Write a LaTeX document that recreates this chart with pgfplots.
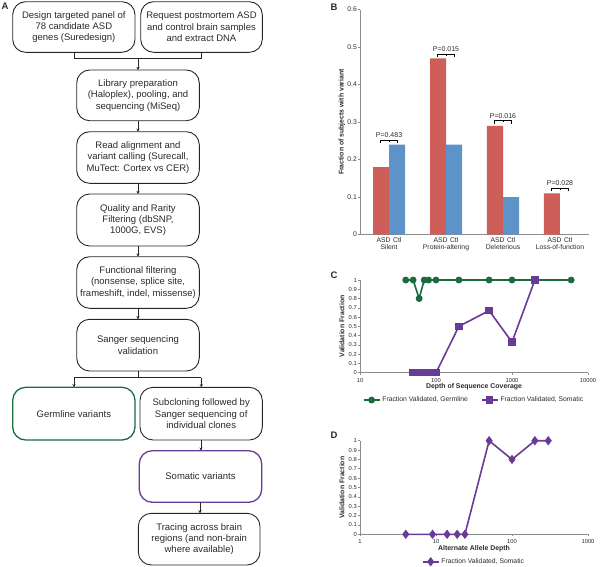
\documentclass[border=0pt]{standalone}
\usepackage{pgfplots}
\pgfplotsset{compat=1.18}
\usepackage{fontspec}
\setmainfont{Liberation Sans}
\usetikzlibrary{arrows.meta}
\definecolor{asdred}{HTML}{CD5E5A}
\definecolor{ctlblue}{HTML}{5E93C9}
\definecolor{dgreen}{HTML}{1B6B3E}
\definecolor{dpurple}{HTML}{6A3A98}
\definecolor{axgray}{HTML}{8C8C8C}
\definecolor{txt}{HTML}{2A2A2A}
\pgfplotsset{
  panel/.style={
    scale only axis, axis lines=left,
    axis line style={-,axgray,line width=0.8pt},
    tick style={axgray,line width=0.6pt}, tick align=outside, major tick length=2pt,
    /pgf/number format/assume math mode=true,
    tick label style={font=\fontsize{5.8}{6.3}\selectfont, text=txt},
    yticklabel style={inner sep=1pt},
    label style={font=\bfseries\fontsize{6.9}{7.5}\selectfont, text=txt},
  },
  lgd/.style={
    legend style={draw=none, fill=none, legend columns=2, font=\fontsize{6.8}{7.5}\selectfont, text=txt,
      inner sep=1pt,
      /tikz/every even column/.append style={column sep=11pt}},
    legend image code/.code={\draw[mark repeat=2,mark phase=2] plot coordinates {(0cm,0cm)(0.28cm,0cm)(0.56cm,0cm)};}
  }
}
\tikzset{
  fb/.style={draw=black!85, rounded corners=13pt, line width=0.9pt},
  ft/.style={align=center, font=\fontsize{9.5}{11.3}\selectfont, text=txt},
  ar/.style={draw=black!85, line width=0.6pt, -{Stealth[length=3.2pt,width=3.2pt]}},
  ln/.style={draw=black!85, line width=0.6pt},
  pl/.style={font=\bfseries\fontsize{9.5}{10}\selectfont, text=txt},
  pv/.style={font=\fontsize{7}{7.5}\selectfont, text=txt, inner sep=0pt}
}
\begin{document}
\begin{tikzpicture}[x=1pt,y=1pt]
\useasboundingbox (0,0) rectangle (600,-566);
% ---------------- Panel A: flowchart ----------------
\node[pl] at (5,-6) {A};
\draw[fb] (12.7,-1.7) rectangle (135,-52.3);
\node[ft] at (73.85,-27) {Design targeted panel of\\78 candidate ASD\\genes (Suredesign)};
\draw[fb] (140.7,-1.7) rectangle (262.3,-52.3);
\node[ft] at (201.5,-27) {Request postmortem ASD\\and control brain samples\\and extract DNA};
\draw[ln] (73.85,-52.3) -- (73.85,-58.3) -- (201.5,-58.3) -- (201.5,-52.3);
\draw[ar] (138,-58.3) -- (138,-70);
\draw[fb] (76.7,-70) rectangle (199.3,-120.7);
\node[ft] at (138,-95.3) {Library preparation\\(Haloplex), pooling, and\\sequencing (MiSeq)};
\draw[ar] (138,-120.7) -- (138,-131.7);
\draw[fb] (76.7,-131.7) rectangle (199.3,-183.3);
\node[ft] at (138,-157.5) {Read alignment and\\variant calling (Surecall,\\MuTect: Cortex vs CER)};
\draw[ar] (138,-183.3) -- (138,-194);
\draw[fb] (76.7,-194) rectangle (199.3,-246);
\node[ft] at (138,-220) {Quality and Rarity\\Filtering (dbSNP,\\1000G, EVS)};
\draw[ar] (138,-246) -- (138,-256.7);
\draw[fb] (76.7,-256.7) rectangle (199.3,-308.3);
\node[ft] at (138,-282.5) {Functional filtering\\(nonsense, splice site,\\frameshift, indel, missense)};
\draw[ar] (138,-308.3) -- (138,-319.3);
\draw[fb] (76.7,-319.3) rectangle (199.3,-371);
\node[ft] at (138,-345.2) {Sanger sequencing\\validation};
\draw[ln] (138,-371) -- (138,-377.7);
\draw[ln] (74,-377.7) -- (201.3,-377.7);
\draw[ar] (74,-377.7) -- (74,-387.3);
\draw[ar] (201.3,-377.7) -- (201.3,-387.3);
\draw[fb, draw=dgreen, line width=1.3pt] (12.7,-387.3) rectangle (135,-440);
\node[ft] at (73.85,-413.7) {Germline variants};
\draw[fb] (140,-387.3) rectangle (262.3,-440);
\node[ft] at (201.2,-413.7) {Subcloning followed by\\Sanger sequencing of\\individual clones};
\draw[ar] (201,-440) -- (201,-450.7);
\draw[fb, draw=dpurple, line width=1.3pt] (139.3,-450.7) rectangle (261.7,-502.3);
\node[ft] at (200.5,-476.5) {Somatic variants};
\draw[ar] (200,-502.3) -- (200,-513.3);
\draw[fb] (138.3,-513.3) rectangle (260,-565);
\node[ft] at (199.2,-539.2) {Tracing across brain\\regions (and non-brain\\where available)};
% ---------------- Panel labels ----------------
\node[pl] at (334,-7) {B};
\node[pl] at (334,-275) {C};
\node[pl] at (334,-435) {D};
% ---------------- Panel B ----------------
\begin{axis}[panel,
  at={(360pt,-234.5pt)}, anchor=south west,
  width=229pt, height=225pt,
  xmin=-0.509, xmax=3.509, ymin=0, ymax=0.6,
  ytick={0,0.1,0.2,0.3,0.4,0.5,0.6},
  yticklabels={0,0.1,0.2,0.3,0.4,0.5,0.6},
  yticklabel style={font=\fontsize{6.8}{7.3}\selectfont},
  xtick={0,1,2,3},
  xticklabels={{ASD\hspace{2.5pt}Ctl\\Silent},{ASD\hspace{2.5pt}Ctl\\Protein-altering},{ASD\hspace{2.5pt}Ctl\\Deleterious},{ASD\hspace{2.5pt}Ctl\\Loss-of-function}},
  xticklabel style={align=center, font=\fontsize{6.8}{6.8}\selectfont, inner sep=1pt},
  major x tick style={draw=none},
  ylabel={Fraction of subjects with variant},
  ylabel style={at={(axis description cs:-0.079,0.5)}, anchor=center},
  clip=false,
]
\addplot[ybar, bar width=16pt, bar shift=-8pt, fill=asdred, draw=none] coordinates {(0,0.18) (1,0.47) (2,0.29) (3,0.11)};
\addplot[ybar, bar width=16pt, bar shift=8pt, fill=ctlblue, draw=none] coordinates {(0,0.24) (1,0.24) (2,0.10) (3,0)};
% p-value brackets
\draw[black, line width=0.8pt] (axis cs:-0.145,0.245) -- (axis cs:-0.145,0.252) -- (axis cs:0.145,0.252) -- (axis cs:0.145,0.245);
\draw[black, line width=0.5pt] (axis cs:0,0.252) -- (axis cs:0,0.248);
\node[pv] at (axis cs:0,0.266) {P=0.483};
\draw[black, line width=0.8pt] (axis cs:0.855,0.473) -- (axis cs:0.855,0.48) -- (axis cs:1.145,0.48) -- (axis cs:1.145,0.473);
\draw[black, line width=0.5pt] (axis cs:1,0.48) -- (axis cs:1,0.476);
\node[pv] at (axis cs:1,0.494) {P=0.015};
\draw[black, line width=0.8pt] (axis cs:1.855,0.296) -- (axis cs:1.855,0.303) -- (axis cs:2.145,0.303) -- (axis cs:2.145,0.296);
\draw[black, line width=0.5pt] (axis cs:2,0.303) -- (axis cs:2,0.299);
\node[pv] at (axis cs:2,0.317) {P=0.016};
\draw[black, line width=0.8pt] (axis cs:2.855,0.115) -- (axis cs:2.855,0.122) -- (axis cs:3.145,0.122) -- (axis cs:3.145,0.115);
\draw[black, line width=0.5pt] (axis cs:3,0.122) -- (axis cs:3,0.118);
\node[pv] at (axis cs:3,0.136) {P=0.028};
\end{axis}
% ---------------- Panel C ----------------
\begin{axis}[panel, lgd,
  at={(360pt,-372.7pt)}, anchor=south west,
  width=228pt, height=92.7pt,
  xmode=log, xmin=10, xmax=10000, ymin=0, ymax=1,
  xminorticks=false,
  xtick={10,100,1000,10000}, xticklabels={10,100,1000,10000},
  ytick={0,0.1,0.2,0.3,0.4,0.5,0.6,0.7,0.8,0.9,1},
  yticklabels={0,0.1,0.2,0.3,0.4,0.5,0.6,0.7,0.8,0.9,1},
  xlabel={Depth of Sequence Coverage},
  xlabel style={at={(axis description cs:0.5,-0.151)}, anchor=center},
  ylabel={Validation Fraction},
  ylabel style={at={(axis description cs:-0.079,0.5)}, anchor=center},
  legend style={at={(axis description cs:0.5,-0.295)}, anchor=center},
  clip=false,
]
\addplot[dgreen, line width=1.6pt, mark=*, mark size=2.6pt] coordinates {
 (40,1) (50,1) (60,0.8) (70,1) (80,1) (100,1) (200,1) (500,1) (1000,1) (2000,1) (6000,1)};
\addlegendentry{Fraction Validated, Germline}
\addplot[dpurple, line width=1.6pt, mark=square*, mark size=2.9pt] coordinates {
 (50,0) (60,0) (70,0) (80,0) (100,0) (200,0.5) (500,0.67) (1000,0.33) (2000,1)};
\addlegendentry{Fraction Validated, Somatic}
\end{axis}
% ---------------- Panel D ----------------
\begin{axis}[panel, lgd,
  at={(360pt,-534.3pt)}, anchor=south west,
  width=228pt, height=93.6pt,
  xmode=log, xmin=1, xmax=1000, ymin=0, ymax=1,
  xminorticks=false,
  xtick={1,10,100,1000}, xticklabels={1,10,100,1000},
  ytick={0,0.1,0.2,0.3,0.4,0.5,0.6,0.7,0.8,0.9,1},
  yticklabels={0,0.1,0.2,0.3,0.4,0.5,0.6,0.7,0.8,0.9,1},
  xlabel={Alternate Allele Depth},
  xlabel style={at={(axis description cs:0.5,-0.157)}, anchor=center},
  ylabel={Validation Fraction},
  ylabel style={at={(axis description cs:-0.079,0.5)}, anchor=center},
  legend style={at={(axis description cs:0.5,-0.293)}, anchor=center},
  clip=false,
]
\addplot[dpurple, line width=1.6pt, mark=diamond*, mark size=3.4pt] coordinates {
 (4,0) (9,0) (14,0) (19,0) (24,0) (50,1) (100,0.8) (200,1) (300,1)};
\addlegendentry{Fraction Validated, Somatic}
\end{axis}
\end{tikzpicture}
\end{document}
